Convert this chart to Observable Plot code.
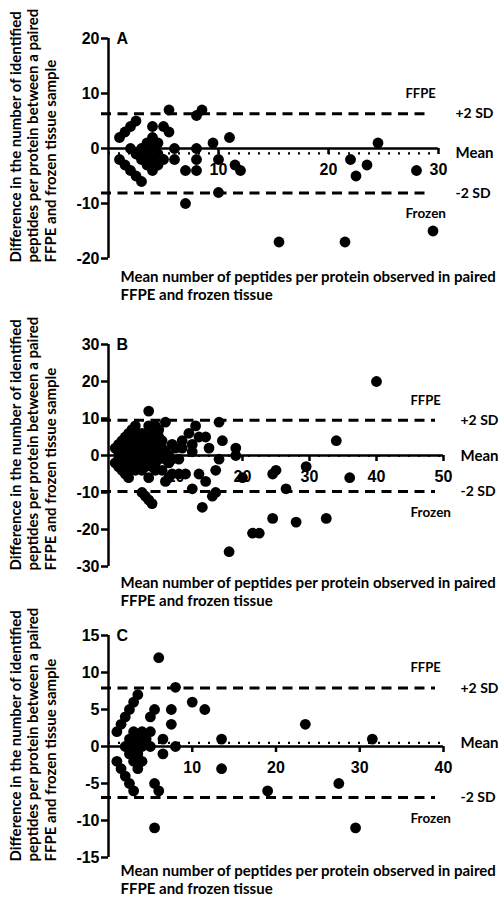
<!DOCTYPE html>
<html><head><meta charset="utf-8">
<script src="https://cdn.jsdelivr.net/npm/d3@7"></script>
<script src="https://cdn.jsdelivr.net/npm/@observablehq/plot@0.6"></script>
<style>
body{margin:0;background:#fff;width:501px;overflow:hidden}
#chart svg{display:block;overflow:visible}
</style></head><body><div id="chart"></div>
<script>
const yTitle = "Difference in the number of identified\npeptides per protein between a paired\nFFPE and frozen tissue sample";
const xTitle = "Mean number of peptides per protein observed in paired\nFFPE and frozen tissue";
const limitLabels = ["+2 SD", "Mean", "-2 SD"];
const sideLabels = ["FFPE", "Frozen"];

// Panel A
const aMean = [1,1.5,2,2.5, 1,1.5,2,2.5,3, 2,2.5,3,3.5,4, 3,3.5,4,4,4.5,3.5,4,4.5,4,4.5,5,5,5.5,5.5,6,6,
  7,7,8,8,8,8,8.5,9.5,10,10,11,11.5,12, 15.5,21.5,22,22.5,23.5,24.5,28,29.5];
const aDiff = [2,3,4,5, -2,-3,-4,-5,-6, 0,-1,-2,-3,-4, 0,1,2,4,1,-1,0,-1,-2,-3,-2,4,7,3,0,-2,
  -4,-10,-4,-2,0,6,7,1,-2,-8,2,-3,-4, -17,-17,-2,-5,-3,1,-4,-15];
const aLimits = [6.3, -0.9, -8.1];
const aXTicks = [10, 20, 30];
const aYTicks = [-20, -10, 0, 10, 20];

// Panel B
const bMean = [40,34,36,29.5,26.5,24.5,25,24.5,28,32.5,21.5,22.5,18,19,19,20,
  16.5,17,16.5,16,15.5,16,14,15,14.5,13.5,13,12,12.5,12.5,11,11.5,10.5,13.5,14.5,12.5,
  5,5.5,6,6.5,6,8.5,8,8.5,9,9.5,10,10.5,6,4,
  1,1.5,2,2.5,3,3.5, 1,1.5,2,2.5,3,
  1.5,1.5,2,2,2,2.5,2.5,2.5,2.5,3,3,3,3,3,3.5,3.5,3.5,3.5,3.5,4,4,4,4,4,4,
  4.5,4.5,4.5,4.5,4.5,5,5,5,5,5,5,5.5,5.5,5.5,5.5,5.5,6,6,6,6,6,
  6.5,6.5,6.5,6.5,6.5,6.5,7,7,7,7,7,7,7.5,7.5,7.5,7.5,8,8,8,8.5,8.5,9,9,9.5,9.5,11,7.5];
const bDiff = [20,4,-6,-3,-9,-5,-4,-17,-18,-17,-21,-21,-26,2,0,-6,
  9,4,-1,-4,-11,-10,-14,2,5,5,8,6,3,1,4,-5,-5,-5,-7,-9,
  -10,-11,-12,-13,12,9,-4,-7,-6,3,2,-1,-6,8,
  2,3,4,5,6,7, -2,-3,-4,-5,-6,
  1,-1,0,2,-2,1,3,-1,-3,0,2,4,-2,-4,1,3,5,-1,-3,0,2,4,6,-2,-4,
  1,3,5,-1,-3,0,2,4,6,-2,-4,1,3,5,-1,-3,0,2,4,8,-2,
  1,3,5,7,-1,-3,0,2,4,8,-2,-4,1,3,5,-1,0,2,4,1,-1,0,-2,-1,-5,2,7];
const bLimits = [9.5, -0.1, -9.7];
const bXTicks = [10, 20, 30, 40, 50];
const bYTicks = [-30, -20, -10, 0, 10, 20, 30];

// Panel C
const cMean = [6,8,10,11.5,7.5,7.5,6.5,6.5,8,5.5,5,5.5,6,5.5,13.5,13.5,19,23.5,27.5,29.5,31.5,5,5,4,3,
  1,1.5,2,2.5,3,3.5, 1,1.5,2,2.5,3,
  2,2.5,2.5,3,3,3.5,3.5,3.5,4,4,4.5];
const cDiff = [12,8,6,5,5,3,1,-1,0,5,4,-5,-6,-11,1,-3,-6,3,-5,-11,1,0,2,2,2,
  2,3,4,5,6,7, -2,-3,-4,-5,-6,
  0,1,-1,0,-2,1,-1,-3,0,-2,1];
const cLimits = [7.9, 0.5, -6.9];
const cXTicks = [10, 20, 30, 40];
const cYTicks = [-15, -10, -5, 0, 5, 10, 15];

const tickFont = {fontFamily: "'Liberation Sans', Arial, sans-serif", fontWeight: "bold", fontSize: 16, fill: "black"};
const titleFont = {fontFamily: "Lato, sans-serif", fontWeight: "bold", fill: "black"};

function panel(o) {
  const data = o.means.map((m, i) => ({m, d: o.diffs[i]}));
  const [up, mean, lo] = o.limits;
  const sd = [{v: up, t: limitLabels[0]}, {v: lo, t: limitLabels[2]}];
  return Plot.plot({
    width: 501, height: o.height,
    marginLeft: 108, marginRight: o.marginRight, marginTop: o.marginTop, marginBottom: o.marginBottom,
    x: {domain: [0, o.xMax], axis: null},
    y: {domain: o.yDomain, axis: null},
    style: {background: "transparent", overflow: "visible"},
    marks: [
      Plot.text(o.xTicks, {x: d => d, y: () => 0, dy: 21, text: d => String(d), ...tickFont}),
      Plot.text(o.yTicks, {x: () => 0, y: d => d, dx: -9, textAnchor: "end", text: d => String(d), ...tickFont}),
      Plot.ruleY(o.yTicks, {y: d => d, x1: () => 0, x2: () => 0, insetLeft: -7, strokeWidth: 2.5}),
      Plot.ruleX(o.xTicks, {x: d => d, y1: () => 0, y2: () => 0, insetBottom: -6, strokeWidth: 2.5}),
      Plot.ruleY([up, lo], {y: d => d, x1: () => 0, x2: () => o.xMax, insetLeft: -7, insetRight: 8, strokeWidth: 3, strokeDasharray: "10,6.5"}),
      Plot.ruleY([mean], {y: d => d, x1: () => 0, x2: () => o.xMax, strokeWidth: 2.2, strokeDasharray: "2,8"}),
      Plot.ruleY([0], {x1: () => 0, x2: () => o.xMax, strokeWidth: 2.5}),
      Plot.ruleX([0], {strokeWidth: 2.5}),
      Plot.dot(data, {x: "m", y: "d", r: 5.4, fill: "black"}),
      Plot.text([o.letter], {x: () => 0, y: () => o.yDomain[1], dx: 8, textAnchor: "start", text: d => d, ...tickFont}),
      Plot.text(sd, {x: () => o.xMax, y: "v", text: "t", dx: 17, textAnchor: "start", fontSize: 14, ...titleFont}),
      Plot.text([mean], {x: () => o.xMax, y: d => d, text: () => limitLabels[1], dx: 17, textAnchor: "start", fontSize: 15, ...titleFont}),
      Plot.text([up], {x: () => o.xMax, y: d => d, text: () => sideLabels[0], dx: -33, dy: -20, textAnchor: "start", fontSize: 13, ...titleFont}),
      Plot.text([lo], {x: () => o.xMax, y: d => d, text: () => sideLabels[1], dx: -33, dy: 21, textAnchor: "start", fontSize: 13.5, ...titleFont}),
      Plot.text([xTitle], {frameAnchor: "bottom-left", dx: 12, dy: o.titleDy, textAnchor: "start", lineAnchor: "top", lineHeight: 1.17, fontSize: 15, text: d => d, ...titleFont}),
      Plot.text([yTitle], {frameAnchor: "bottom-left", dx: -100, dy: 4, rotate: -90, textAnchor: "start", lineAnchor: "top", lineHeight: 17.5 / 15, fontSize: 15, text: d => d, ...titleFont})
    ]
  });
}

const chart = document.getElementById("chart");
chart.append(panel({letter: "A", means: aMean, diffs: aDiff, limits: aLimits, xTicks: aXTicks, yTicks: aYTicks,
  xMax: 30, yDomain: [-20, 20], height: 304, marginTop: 38, marginBottom: 46, marginRight: 63, titleDy: 11}));
chart.append(panel({letter: "B", means: bMean, diffs: bDiff, limits: bLimits, xTicks: bXTicks, yTicks: bYTicks,
  xMax: 50, yDomain: [-30, 30], height: 304, marginTop: 40, marginBottom: 42, marginRight: 58, titleDy: 9}));
chart.append(panel({letter: "C", means: cMean, diffs: cDiff, limits: cLimits, xTicks: cXTicks, yTicks: cYTicks,
  xMax: 40, yDomain: [-15, 15], height: 289, marginTop: 27, marginBottom: 40, marginRight: 58, titleDy: 6}));
</script></body></html>
